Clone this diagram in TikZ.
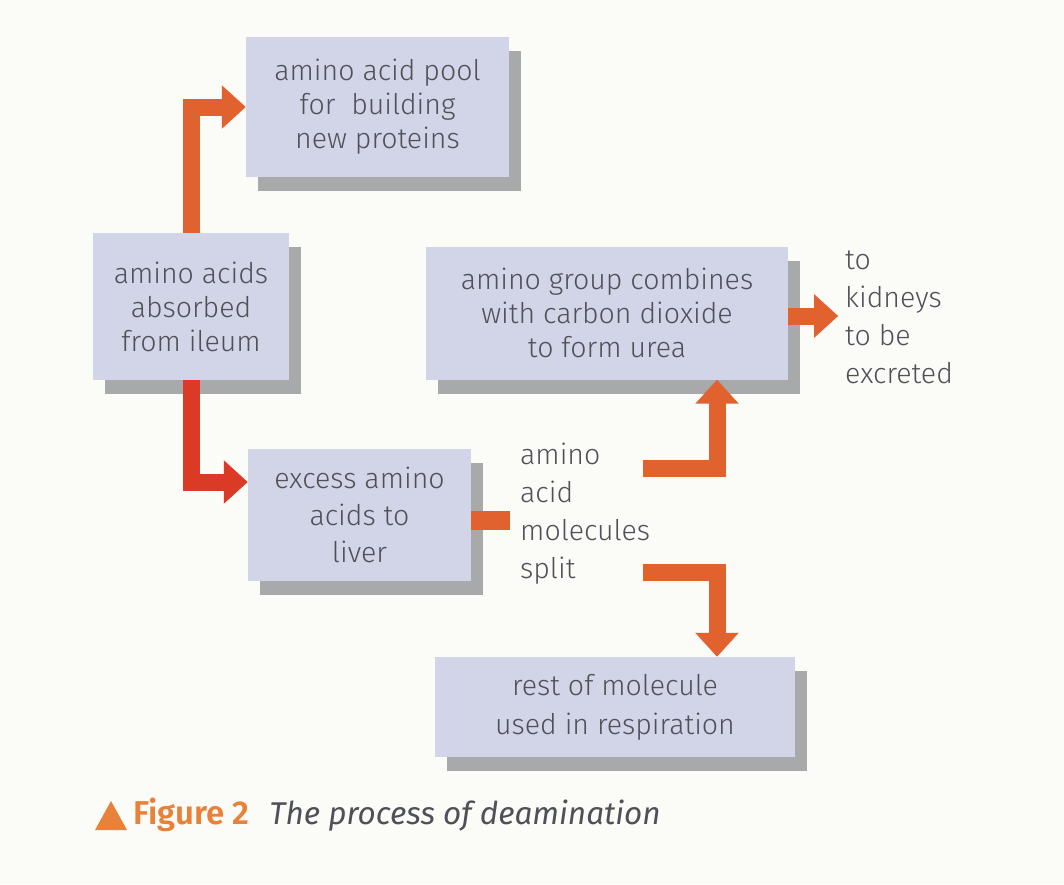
\documentclass[tikz,border=0pt]{standalone}
\usepackage{fontspec}
\setmainfont{Fira Sans}
\newfontfamily\lightf{Fira Sans Light}
\newfontfamily\capbold{Fira Sans SemiBold}
\usetikzlibrary{arrows.meta,shadows}
\definecolor{bg}{HTML}{FBFBF8}
\definecolor{boxfill}{HTML}{D2D4E7}
\definecolor{shade}{HTML}{A8A9AA}
\definecolor{txt}{HTML}{4F5058}
\definecolor{arrorange}{HTML}{E2622F}
\definecolor{arrred}{HTML}{DB3A26}
\definecolor{caporange}{HTML}{E8823A}
\tikzset{
  box/.style={draw=none, fill=boxfill, text=txt, align=center, inner sep=0pt,
    font=\lightf\fontsize{28.5}{34}\selectfont,
    drop shadow={shadow xshift=12pt, shadow yshift=-14pt, fill=shade, opacity=1}},
  label/.style={text=txt, align=left, inner sep=0pt, anchor=west,
    font=\lightf\fontsize{28.5}{38}\selectfont},
  arr/.style={draw=arrorange, line width=17pt, line join=miter,
    -{Triangle[width=42pt,length=24pt]}},
  bar/.style={draw=arrorange, line width=19pt}
}
\begin{document}
\begin{tikzpicture}[x=1pt,y=-1pt]
\fill[bg] (0,0) rectangle (1064,884);
\useasboundingbox (0,0) rectangle (1064,884);

\node[box, minimum width=263pt, minimum height=140pt] (pool) at (377.5,107)
  {amino acid pool\\for\ \ building\\new proteins};
\node[box, minimum width=196pt, minimum height=147pt] (absorbed) at (191,306.5)
  {amino acids\\absorbed\\from ileum};
\node[box, minimum width=362pt, minimum height=133pt] (urea) at (607,313)
  {amino group combines\\with carbon dioxide\\to form urea};
\node[box, minimum width=223pt, minimum height=132pt,
  font=\lightf\fontsize{28.5}{37}\selectfont] (liver) at (359.5,515)
  {excess amino\\acids to\\liver};
\node[box, minimum width=360pt, minimum height=100pt,
  font=\lightf\fontsize{28.5}{39}\selectfont] (resp) at (615,707)
  {rest of molecule\\used in respiration};

\node[label] (kidneys) at (845,317) {to\\kidneys\\to be\\excreted};
\node[label] (split) at (520,514) {amino\\acid\\molecules\\split};

\coordinate (up) at (643,468);
\coordinate (down) at (643,572);
\coordinate (splitin) at (510,520);

\draw[arr] (absorbed.north) |- (pool.west);
\draw[arr, draw=arrred] (absorbed.south) |- ([yshift=33pt]liver.west);
\draw[bar] ([yshift=-5pt]liver.east) -- (splitin);
\draw[arr] (up) -| ([xshift=110pt]urea.south);
\draw[arr] (down) -| ([xshift=102pt]resp.north);
\draw[arr] ([yshift=-3pt]urea.east) -- ++(50,0);

\fill[caporange] (95,830) -- (127,830) -- (111,801) -- cycle;
\node[anchor=west, inner sep=0pt, text=txt, font=\fontsize{31.5}{36}\selectfont] (caption) at (133,815)
  {{\capbold\fontsize{33}{36}\selectfont\color{caporange}Figure 2}\hspace{20pt}{\itshape The process of deamination}};
\end{tikzpicture}
\end{document}
